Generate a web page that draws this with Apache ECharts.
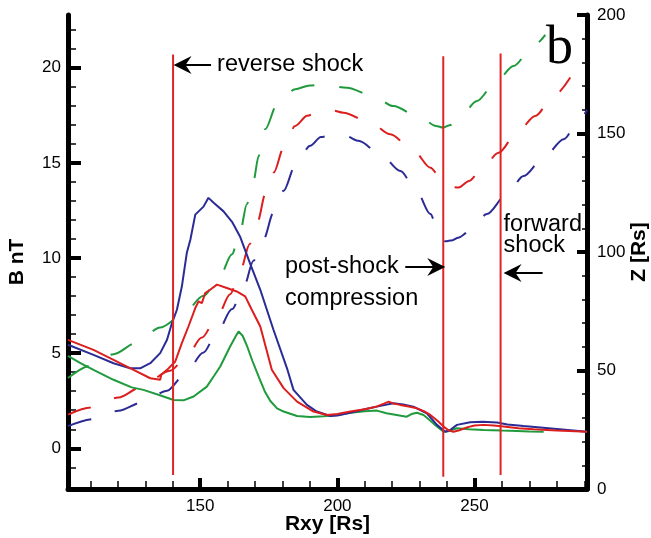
<!DOCTYPE html>
<html>
<head>
<meta charset="utf-8">
<script src="https://cdn.jsdelivr.net/npm/echarts@6/dist/echarts.min.js"></script>
<style>
html, body { margin: 0; padding: 0; background: #fff; }
#chart { width: 651px; height: 538px; }
</style>
</head>
<body>
<div id="chart"></div>
<script>
// axis ranges and tick values
var xMin = 101.8, xMax = 291
var bMin = -2.14, bMax = 22.77
var zMin = 0, zMax = 200
var xMajor = [150, 200, 250]
var xMinor = [110, 120, 130, 140, 160, 170, 180, 190, 210, 220, 230, 240, 260, 270, 280, 290]
var bMajor = [0, 5, 10, 15, 20]
var bMinor = [-1, 1, 2, 3, 4, 6, 7, 8, 9, 11, 12, 13, 14, 16, 17, 18, 19, 21, 22]
var zMajor = [0, 50, 100, 150, 200]
var zMinor = [10, 20, 30, 40, 60, 70, 80, 90, 110, 120, 130, 140, 160, 170, 180, 190]

// B nT (solid, left axis)
var bBlue = [[101.8,5.44],[111.1,4.91],[118.4,4.47],[124.5,4.2],[128.1,4.2],[131.8,4.47],[135.4,5.0],[137.9,5.7],[139.7,6.58],[141.5,7.28],[143.3,8.5],[145.1,10.26],[146.4,10.96],[148.2,12.28],[151.2,12.7],[153,13.16],[154.9,12.9],[158.5,12.45],[161.6,11.9],[164.6,11.1],[168.2,9.7],[171.9,8.33],[176.7,6.23],[181.8,4.13],[184,3.07],[188.9,2.28],[192.5,1.93],[197.4,1.7],[200,1.72],[204.7,1.87],[210,2.05],[214.4,2.19],[220.4,2.37],[224,2.3],[227.7,2.19],[232.6,1.84],[236.3,1.23],[239.3,0.87],[241,0.95],[243.6,1.23],[248.4,1.37],[253,1.4],[258.2,1.35],[262,1.25],[267.9,1.17],[275,1.08],[283,0.98],[291,0.87]]
var bRed = [[101.8,5.7],[111.1,5.17],[118.4,4.65],[125.7,4.12],[131.8,3.68],[135.4,3.6],[135.8,3.86],[137.9,4.12],[140.9,4.56],[143.3,5.53],[145.7,6.4],[148.2,7.37],[149.4,7.72],[150.6,7.63],[151.8,8.16],[153.6,8.33],[156.1,8.6],[159.7,8.42],[163.3,8.24],[166.4,7.98],[168.8,7.28],[171.9,6.4],[176.1,4.13],[180.4,3.16],[185.3,2.45],[191.3,1.93],[196.2,1.75],[200,1.8],[204.7,1.93],[210,2.05],[214.4,2.2],[217,2.35],[218.7,2.45],[220.5,2.35],[222.9,2.28],[226,2.2],[229,2.1],[231.5,1.95],[233.9,1.75],[236.5,1.45],[238.7,1.14],[240.5,0.95],[242.3,0.87],[244.5,0.95],[247.2,1.1],[250,1.2],[253.3,1.23],[257,1.2],[260.6,1.14],[266,1.05],[271.5,1.0],[280,0.93],[291,0.87]]
var bGreen = [[101.8,4.86],[106,4.5],[111.1,4.12],[118.4,3.6],[125,3.2],[129.3,3.07],[135,2.8],[140.3,2.54],[143.9,2.52],[147.6,2.72],[152.4,3.24],[155,3.8],[157.3,4.3],[160.9,5.35],[163,5.9],[164,6.14],[165.5,5.9],[167,5.4],[169,4.6],[171.5,3.7],[173.5,3.0],[175.5,2.5],[178,2.1],[180.4,1.93],[185.3,1.7],[190,1.65],[195,1.68],[200,1.75],[204.7,1.87],[210,1.95],[214.4,1.98],[217.9,1.84],[221.6,1.75],[225.3,1.66],[227,1.8],[229,1.87],[231.4,1.75],[233.5,1.5],[236.3,1.14],[238.7,0.87],[240.5,0.9],[243.6,1.05],[248,1.0],[253.3,0.96],[260,0.93],[265.5,0.91],[270,0.88],[275.2,0.87]]

// Z [Rs] (dashed, right axis)
var zGreen = [[101.8,46.8],[109.9,52],[118.4,56.9],[126.9,61.8],[135.4,68.1],[143.3,73.1],[151.2,81.5],[156.7,88.6],[161.6,99.1],[164.6,108.9],[167,120.2],[169.4,130],[171.3,140.5],[173.7,151.8],[178,162.3],[184.6,168.7],[190,170.3],[195,170.6],[203.5,169.3],[213.1,165.8],[220.4,161.6],[230.2,156.7],[236,153.2],[238.5,152.5],[241,153.5],[244.2,156],[250.9,163.7],[257.6,171.5],[264.2,178.5],[271.5,187],[275.8,191.6]]
var zRed = [[101.8,31.4],[110.1,34.4],[120.2,38.6],[128.1,42.8],[139,49.9],[144.5,54.8],[150.6,63.9],[156.1,72.4],[160.9,82.2],[164.6,92],[168,103.3],[171,113.1],[173.7,124.4],[176.8,133.5],[180.4,144],[184.6,153.2],[189,157.5],[193.7,159.5],[198,159.8],[202.2,158.8],[212,154.6],[219.3,149.7],[227.8,142.7],[233.9,135.6],[238.7,129.3],[241.5,127.5],[244.2,127.2],[248,130],[252.1,134.2],[258.8,141.9],[265.5,150.4],[272.1,157.4],[278.8,165.8],[284.9,173.6]]
var zBlue = [[101.8,26.5],[111.1,29.5],[120.2,33],[128.7,36.5],[137.9,41.5],[144.5,48.5],[151.2,57.6],[156.1,66],[161.6,75.9],[165.8,85],[169.4,96.3],[173.1,105.4],[176.7,116.6],[180.4,125.8],[184.6,136.3],[190.1,144.8],[194,148.5],[198.6,149.7],[203,149],[207.7,146.9],[215.7,141.3],[223,134.2],[229.1,125.1],[233.9,116],[237,108],[239.3,104.5],[242,105],[244,106],[248.4,108.9],[254.5,116],[261.8,124.4],[267.9,132.1],[275.2,139.8],[282.5,147.6],[288,155.3],[291,160]]

// shock positions (vertical red lines)
var shockX = [140.1, 238.6, 259.5]
var shockTop = [20.7, 20.6, 20.75]
var shockBottom = [-1.4, -1.5, -1.4]

var blue = '#2b2b96'
var red = '#dc1e1e'
var green = '#1f9a3c'
var font = 'Liberation Sans, Arial, sans-serif'

function axisBase(min, max) {
	return {
		type: 'value',
		min: min,
		max: max,
		splitLine: { show: false },
		axisLine: { show: false, onZero: false },
		axisLabel: { show: false }
	}
}

// axis with line, labels and thin ticks
function mainAxis(min, max, pos, labels, ticks, len) {
	var a = axisBase(min, max)
	a.position = pos
	a.nameMoveOverlap = false
	a.axisLine = { show: true, onZero: false, lineStyle: { color: '#000', width: 5 } }
	a.axisTick = { show: true, inside: true, length: len, customValues: ticks, lineStyle: { color: '#000', width: 1.5 } }
	a.axisLabel = { show: true, customValues: labels, color: '#000', fontSize: 17, fontFamily: font, margin: 9 }
	return a
}

// overlay axis carrying only the thick major ticks
function majorTicks(min, max, pos, ticks, len) {
	var a = axisBase(min, max)
	a.position = pos
	a.axisTick = { show: true, inside: true, length: len, customValues: ticks, lineStyle: { color: '#000', width: 4 } }
	return a
}

var nameStyle = { color: '#000', fontSize: 21, fontWeight: 'bold', fontFamily: font }

var xMain = mainAxis(xMin, xMax, 'bottom', xMajor, xMajor.concat(xMinor), 8)
xMain.name = 'Rxy [Rs]'
xMain.nameLocation = 'middle'
xMain.nameGap = 25
xMain.nameTextStyle = nameStyle

var bMain = mainAxis(bMin, bMax, 'left', bMajor, bMinor, 8)
bMain.axisLabel.margin = 7
bMain.name = 'B nT'
bMain.nameLocation = 'middle'
bMain.nameGap = 40
bMain.nameRotate = 90
bMain.nameTextStyle = Object.assign({ padding: [0, 20, 0, 0] }, nameStyle)

var zMain = mainAxis(zMin, zMax, 'right', zMajor, zMinor, 5)
zMain.axisLabel.margin = 10
zMain.name = 'Z [Rs]'
zMain.nameLocation = 'middle'
zMain.nameGap = 42
zMain.nameRotate = 90
zMain.nameTextStyle = nameStyle

// x major ticks: overlay axis with invisible labels so its ticks get laid out
var xMajorAxis = majorTicks(xMin, xMax, 'bottom', xMajor, 11)
xMajorAxis.axisLabel = { show: true, customValues: xMajor, color: 'rgba(0,0,0,0)', fontSize: 17, fontFamily: font, margin: 9, hideOverlap: false }
xMajorAxis.axisTick.alignWithLabel = true

function solid(data, color) {
	return { type: 'line', xAxisIndex: 0, yAxisIndex: 0, data: data, showSymbol: false, symbol: 'none',
		lineStyle: { color: color, width: 2 }, z: 3 }
}

function dashed(data, color) {
	return { type: 'line', xAxisIndex: 0, yAxisIndex: 2, data: data, showSymbol: false, symbol: 'none',
		smooth: 0.3, smoothMonotone: 'x', lineStyle: { color: color, width: 2, type: [24, 25] }, z: 2 }
}

var series = [
	dashed(zGreen, green),
	dashed(zRed, red),
	dashed(zBlue, blue),
	solid(bGreen, green),
	solid(bBlue, blue),
	solid(bRed, red)
]
for (var i = 0; i < shockX.length; i++) {
	series.push({ type: 'line', xAxisIndex: 0, yAxisIndex: 0, showSymbol: false, symbol: 'none',
		data: [[shockX[i], shockBottom[i]], [shockX[i], shockTop[i]]],
		lineStyle: { color: '#e02424', width: 2 }, z: 4 })
}

var chart = echarts.init(document.getElementById('chart'), null, { renderer: 'canvas' })
chart.setOption({
	animation: false,
	backgroundColor: '#fff',
	grid: { left: 68, right: 64, top: 15, bottom: 49, containLabel: false, outerBoundsMode: 'none' },
	xAxis: [xMain, xMajorAxis],
	yAxis: [bMain, majorTicks(bMin, bMax, 'left', bMajor, 13), zMain, majorTicks(zMin, zMax, 'right', zMajor, 10)],
	series: series
})

// annotations: arrows are placed against the shock lines
function toPx(x, y) {
	return chart.convertToPixel({ xAxisIndex: 0, yAxisIndex: 0 }, [x, y])
}

function arrow(tipX, y, tailX) {
	var dir = tailX > tipX ? 1 : -1
	return [
		{ type: 'line', shape: { x1: tipX + dir * 10, y1: y, x2: tailX, y2: y }, style: { stroke: '#000', lineWidth: 2 }, z: 10 },
		{ type: 'polygon', shape: { points: [[tipX, y], [tipX + dir * 18, y - 9], [tipX + dir * 12, y], [tipX + dir * 18, y + 9]] },
			style: { fill: '#000' }, z: 10 }
	]
}

function label(text, x, y, size, family) {
	return { type: 'text', x: x, y: y, z: 10,
		style: { text: text, fill: '#000', font: size + 'px ' + (family || font), verticalAlign: 'middle', align: 'left' } }
}

var s0 = toPx(shockX[0], 0)[0]
var s1 = toPx(shockX[1], 0)[0]
var s2 = toPx(shockX[2], 0)[0]

var graphics = []
graphics = graphics.concat(arrow(s0 + 0.5, 65, s0 + 38))
graphics.push(label('reverse shock', s0 + 44, 65, 23.5))
graphics = graphics.concat(arrow(s1 + 2, 267, s1 - 38))
graphics.push(label('post-shock', 285, 267, 23.5))
graphics.push(label('compression', 285, 298.5, 23.5))
graphics = graphics.concat(arrow(s2 + 3, 273, s2 + 42))
graphics.push(label('forward', s2 + 3, 225, 23.5))
graphics.push(label('shock', s2 + 3, 246, 23.5))
graphics.push(label('b', 546, 49, 54, 'Liberation Serif, serif'))

chart.setOption({ graphic: graphics })
</script>
</body>
</html>
